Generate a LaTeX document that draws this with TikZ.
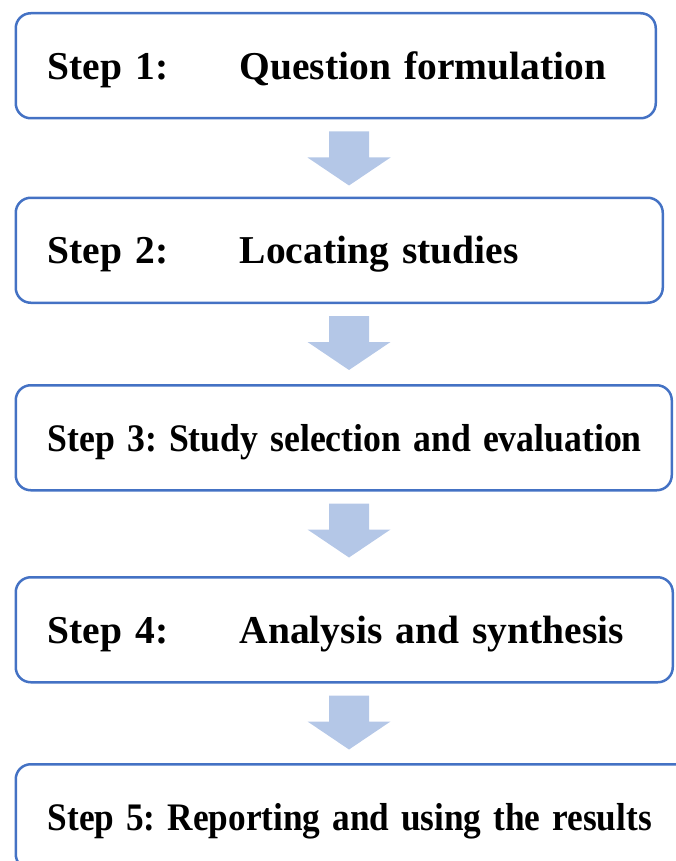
\documentclass[tikz,border=0pt]{standalone}
\usepackage{fontspec}
\setmainfont{Liberation Serif}
\usetikzlibrary{calc}
\definecolor{boxblue}{HTML}{4472C4}
\definecolor{arrowblue}{HTML}{B4C7E7}
\tikzset{
  stepbox/.style={draw=boxblue, line width=2.5pt, rounded corners=15pt,
    anchor=north west, minimum height=105pt, inner xsep=32pt, inner ysep=0pt,
    align=left, text height=27pt, text depth=0pt,
    font=\fontsize{39.5}{48}\selectfont\bfseries\frenchspacing},
  steparrow/.style={fill=arrowblue}
}
\newcommand{\steplabel}[2]{\mbox{\makebox[192pt][l]{#1}#2}}
\newcommand{\steptight}[2]{\resizebox{#1}{\height}{\fontsize{39}{48}\selectfont #2}}
\begin{document}
\begin{tikzpicture}[x=1pt,y=1pt]
  \useasboundingbox (0,0) rectangle (675,-861);
  % the five steps
  \node[stepbox, text width=576pt] (s1) at (14.5,-12)
    {\steplabel{Step 1:}{Question formulation}};
  \node[stepbox, text width=583pt] (s2) at (14.5,-196.5)
    {\steplabel{Step 2:}{Locating studies}};
  \node[stepbox, text width=592pt] (s3) at (14.5,-384)
    {\steptight{594pt}{Step 3: Study selection and evaluation}};
  \node[stepbox, text width=593pt] (s4) at (14.5,-576)
    {\steplabel{Step 4:}{Analysis and synthesis}};
  \node[stepbox, text width=624pt] (s5) at (14.5,-763)
    {\steptight{604pt}{Step 5: Reporting and using the results}};
  % block arrows between the steps
  \foreach \a in {s1,s2,s3,s4}
    \fill[steparrow] let \p1=(\a.south) in
      (329pt,\y1-12pt) -- (369pt,\y1-12pt) -- (369pt,\y1-38pt) --
      (390.5pt,\y1-38pt) -- (349pt,\y1-66pt) -- (307.5pt,\y1-38pt) --
      (329pt,\y1-38pt) -- cycle;
\end{tikzpicture}
\end{document}
